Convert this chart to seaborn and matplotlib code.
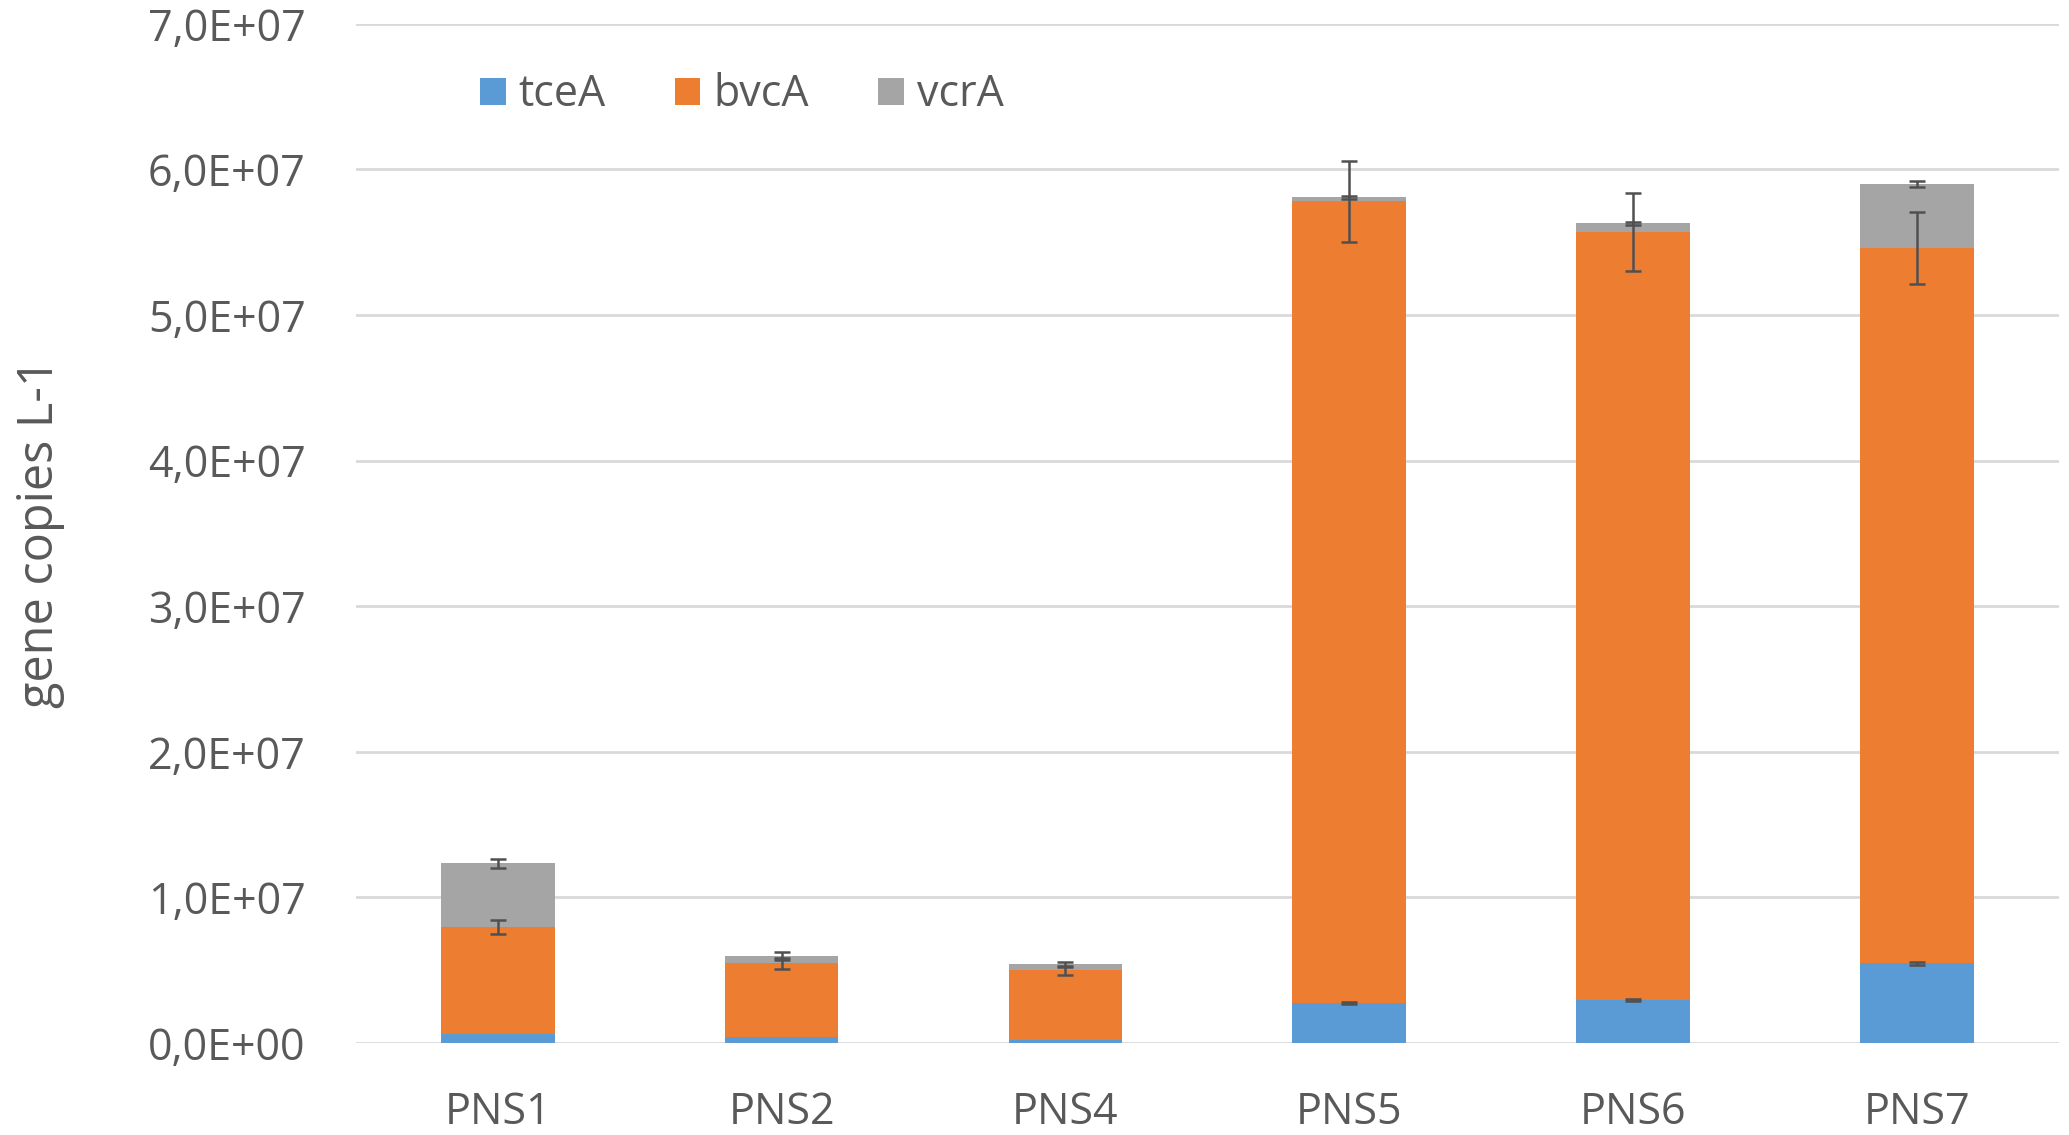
import numpy as np
import pandas as pd
import matplotlib
matplotlib.use('Agg')
import matplotlib.pyplot as plt
import seaborn as sns
from matplotlib.ticker import FuncFormatter, MultipleLocator

# values (gene copies per litre)
samples = ['PNS1', 'PNS2', 'PNS4', 'PNS5', 'PNS6', 'PNS7']
tceA = [0.06e7, 0.04e7, 0.02e7, 0.275e7, 0.297e7, 0.549e7]
bvcA = [0.737e7, 0.507e7, 0.48e7, 5.505e7, 5.273e7, 4.911e7]
vcrA = [0.438e7, 0.05e7, 0.04e7, 0.03e7, 0.06e7, 0.44e7]
tceA_err = [0.0, 0.0, 0.0, 0.005e7, 0.005e7, 0.01e7]
bvcA_err = [0.048e7, 0.035e7, 0.03e7, 0.275e7, 0.27e7, 0.245e7]
vcrA_err = [0.03e7, 0.025e7, 0.02e7, 0.01e7, 0.01e7, 0.02e7]

colors = {'tceA': '#5B9BD5', 'bvcA': '#ED7D31', 'vcrA': '#A5A5A5'}
text_color = '#595959'

df = pd.DataFrame({'sample': samples, 'tceA': tceA, 'bvcA': bvcA, 'vcrA': vcrA,
                   'err_tceA': tceA_err, 'err_bvcA': bvcA_err, 'err_vcrA': vcrA_err})
df['top_tceA'] = df['tceA']
df['top_bvcA'] = df['tceA'] + df['bvcA']
df['top_vcrA'] = df['top_bvcA'] + df['vcrA']
df['pos'] = np.arange(len(df))

sns.set_style('white')
plt.rcParams['font.family'] = ['Open Sans', 'DejaVu Sans']

fig, ax = plt.subplots(figsize=(20.69, 11.35), dpi=100)
fig.subplots_adjust(left=0.172, right=0.995, bottom=0.081, top=0.979)

# stacked bars: draw cumulative totals from back to front
for gene in ['vcrA', 'bvcA', 'tceA']:
    sns.barplot(data=df, x='sample', y='top_' + gene, color=colors[gene],
                width=0.4, saturation=1, label=gene, ax=ax, zorder=2,
                linewidth=0, edgecolor='none')

# error bars at the top of each segment (skip the ones with no spread)
for gene in ['tceA', 'bvcA', 'vcrA']:
    sub = df[df['err_' + gene] > 0]
    ax.errorbar(sub['pos'], sub['top_' + gene], yerr=sub['err_' + gene], fmt='none',
                ecolor='#505050', elinewidth=1.8, capsize=6, capthick=1.8, zorder=4)

ax.set_ylim(0, 7e7)
ax.set_xlim(-0.5, len(samples) - 0.5)
ax.yaxis.set_major_locator(MultipleLocator(1e7))
ax.yaxis.set_major_formatter(FuncFormatter(lambda v, p: f'{v:.1E}'.replace('.', ',')))
ax.grid(axis='y', color='#D9D9D9', linewidth=2, zorder=0)
ax.set_axisbelow(True)
for s in ax.spines.values():
    s.set_visible(False)

ax.tick_params(axis='both', length=0, labelsize=31, colors=text_color)
ax.tick_params(axis='y', pad=36)
ax.tick_params(axis='x', pad=34)
ax.set_xlabel('')
ax.set_ylabel('gene copies L-1', fontsize=35, color=text_color, labelpad=60)

handles, labels = ax.get_legend_handles_labels()
ax.legend(handles[::-1], labels[::-1], loc='center left', bbox_to_anchor=(0.05, 0.93),
          ncol=3, frameon=False, fontsize=31, labelcolor=text_color,
          handlelength=0.6, handleheight=0.6, handletextpad=0.3, columnspacing=1.6)

fig.savefig('out.png', dpi=100, facecolor='white')
